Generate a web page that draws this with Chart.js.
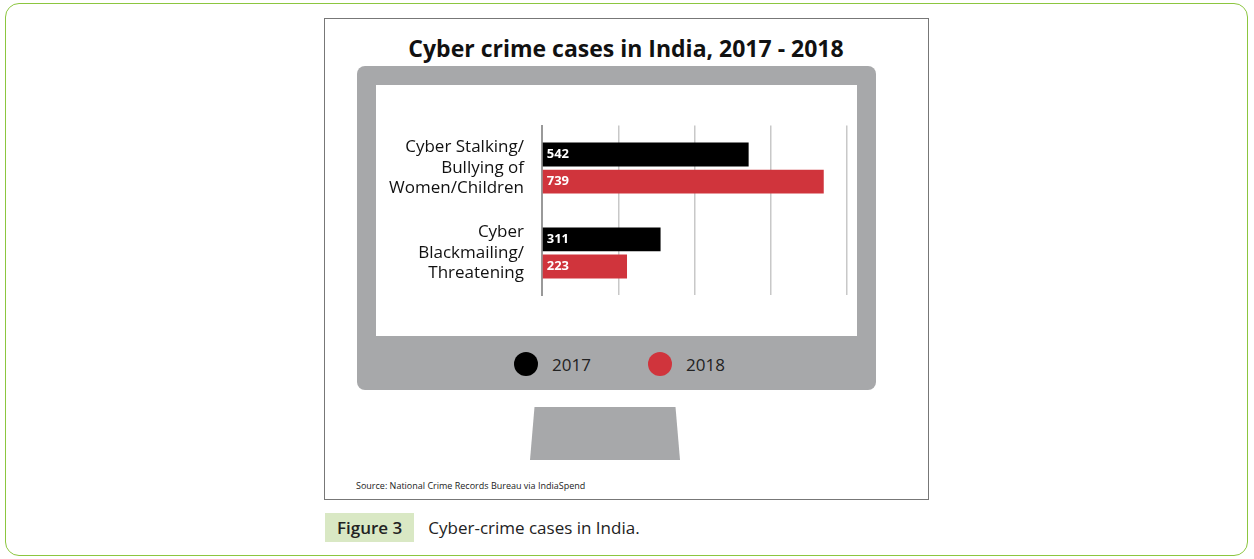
<!DOCTYPE html>
<html>
<head>
<meta charset="utf-8">
<script src="https://cdn.jsdelivr.net/npm/chart.js@4"></script>
<style>
  body { margin: 0; width: 1254px; height: 559px; background: #fff; font-family: "Open Sans", sans-serif; position: relative; overflow: hidden; }
  .frame { position: absolute; left: 5px; top: 3px; width: 1241px; height: 551px; border: 1px solid #8cc63f; border-radius: 14px; }
  .figbox { position: absolute; left: 324px; top: 18px; width: 603px; height: 480px; border: 1px solid #777; }
  .title { position: absolute; left: 324px; top: 32px; width: 604px; text-align: center; font: bold 23px "Open Sans", sans-serif; color: #111; }
  .monitor { position: absolute; left: 357px; top: 66px; width: 519px; height: 324px; background: #a7a8aa; border-radius: 8px; }
  .screen { position: absolute; left: 376px; top: 85px; width: 481px; height: 251px; background: #fff; }
  .stand { position: absolute; left: 530px; top: 407px; width: 150px; height: 53px; background: #a7a8aa; clip-path: polygon(3% 0, 97% 0, 100% 100%, 0 100%); }
  .legend { position: absolute; top: 352px; font-size: 17px; color: #222; display: flex; align-items: center; }
  .dot { width: 24px; height: 24px; border-radius: 50%; margin-right: 14px; }
  .source { position: absolute; left: 356px; top: 479px; font-size: 9px; color: #222; }
  .cap { position: absolute; left: 325px; top: 513px; font-size: 17px; color: #222; display: flex; align-items: center; }
  .cap b { background: #d9e8c4; padding: 3px 12px; margin-right: 14px; font-weight: 600; }
</style>
</head>
<body>
<div class="frame"></div>
<div class="figbox"></div>
<div class="title">Cyber crime cases in India, 2017 - 2018</div>
<div class="monitor"></div>
<div class="screen"><canvas id="chart" width="481" height="251"></canvas></div>
<div class="stand"></div>
<div class="legend" style="left:514px"><span class="dot" style="background:#000"></span>2017</div>
<div class="legend" style="left:648px"><span class="dot" style="background:#d0343c"></span>2018</div>
<div class="source">Source: National Crime Records Bureau via IndiaSpend</div>
<div class="cap"><b>Figure 3</b>Cyber-crime cases in India.</div>
<script>
// Data
const categories = [
    ['Cyber Stalking/', 'Bullying of', 'Women/Children'],
    ['Cyber', 'Blackmailing/', 'Threatening']
];
const seriesNames = ['2017', '2018'];
const values2017 = [542, 311];
const values2018 = [739, 223];
const colors = ['#000000', '#d0343c'];

// White value labels inside the bars, at the left end
const valueLabels = {
    id: 'valueLabels',
    afterDatasetsDraw(chart) {
        const ctx = chart.ctx;
        ctx.save();
        ctx.fillStyle = '#fff';
        ctx.font = 'bold 13px "Open Sans", sans-serif';
        ctx.textBaseline = 'middle';
        chart.data.datasets.forEach((ds, i) => {
            chart.getDatasetMeta(i).data.forEach((bar, j) => {
                ctx.fillText(ds.data[j], bar.base + 4, bar.y);
            });
        });
        ctx.restore();
    }
};

const ctx = document.getElementById('chart').getContext('2d');
new Chart(ctx, {
    type: 'bar',
    data: {
        labels: categories,
        datasets: [
            { label: seriesNames[0], data: values2017, backgroundColor: colors[0] },
            { label: seriesNames[1], data: values2018, backgroundColor: colors[1] }
        ]
    },
    options: {
        indexAxis: 'y',
        responsive: false,
        animation: false,
        layout: { padding: { top: 12, right: 10, bottom: 14, left: 0 } },
        datasets: { bar: { categoryPercentage: 0.64, barPercentage: 0.88 } },
        scales: {
            x: {
                min: 0, max: 800,
                ticks: { display: false, stepSize: 200 },
                grid: { color: '#c8c8c8', lineWidth: 1.5, drawTicks: false },
                border: { display: false }
            },
            y: {
                afterFit(scale) { scale.width = 166; },
                ticks: { color: '#111', font: { size: 17, family: '"Open Sans", sans-serif' }, padding: 10 },
                grid: { display: false },
                border: { color: '#999', width: 2 }
            }
        },
        plugins: { legend: { display: false }, tooltip: { enabled: false } }
    },
    plugins: [valueLabels]
});
</script>
</body>
</html>
